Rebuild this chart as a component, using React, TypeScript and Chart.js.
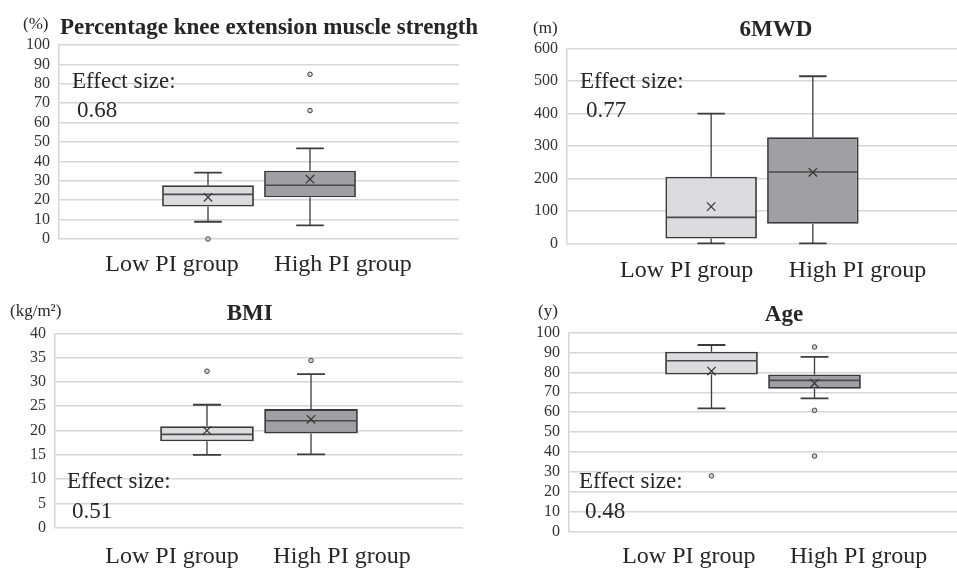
import React, { useEffect, useRef } from 'react';
import { Chart, registerables } from 'chart.js';

Chart.register(...registerables);

// ---------- data ----------
const groups = ['Low PI group', 'High PI group'];

// Panel 1: Percentage knee extension muscle strength
const kneeTitle = 'Percentage knee extension muscle strength';
const kneeUnit = '(%)';
const kneeAxis = [0, 100, 10];
const kneeMin = [8.9, 7.0];
const kneeQ1 = [16.7, 21.5];
const kneeMedian = [23.0, 27.7];
const kneeQ3 = [27.7, 35.2];
const kneeMax = [34.2, 46.7];
const kneeMean = [21.5, 30.8];
const kneeOutliers = [[0], [66.2, 84.9]];
const kneeEffect = '0.68';

// Panel 2: 6MWD
const mwdTitle = '6MWD';
const mwdUnit = '(m)';
const mwdAxis = [0, 600, 100];
const mwdMin = [0, 0];
const mwdQ1 = [15, 60];
const mwdMedian = [80, 220];
const mwdQ3 = [205, 327];
const mwdMax = [400, 515];
const mwdMean = [113, 219];
const mwdOutliers = [[], []];
const mwdEffect = '0.77';

// Panel 3: BMI
const bmiTitle = 'BMI';
const bmiUnit = '(kg/m²)';
const bmiAxis = [0, 40, 5];
const bmiMin = [15.0, 15.1];
const bmiQ1 = [17.8, 19.4];
const bmiMedian = [19.2, 22.0];
const bmiQ3 = [20.9, 24.4];
const bmiMax = [25.3, 31.6];
const bmiMean = [20.0, 22.3];
const bmiOutliers = [[32.2], [34.4]];
const bmiEffect = '0.51';

// Panel 4: Age
const ageTitle = 'Age';
const ageUnit = '(y)';
const ageAxis = [0, 100, 10];
const ageMin = [61.9, 66.9];
const ageQ1 = [78.9, 71.8];
const ageMedian = [85.9, 76.0];
const ageQ3 = [90.4, 78.9];
const ageMax = [93.8, 87.8];
const ageMean = [80.7, 74.5];
const ageOutliers = [[27.9], [92.8, 60.9, 37.9]];
const ageEffect = '0.48';

// ---------- styles / layout ----------
const FONT = "'Liberation Serif', 'Times New Roman', serif";
const TEXT = '#262626';
const FILLS = ['#dcdcde', '#a0a0a4'];
const EDGE = '#3a3a3a';
const GRID = '#d6d6d6';
const YAXIS_W = 50;

const layouts = [
  { area: [59, 459, 45, 239], cat: 0.51, bar: 0.9, title: [269, 34], unit: [23, 29], eff: [72, 88, 77, 117], labels: [172, 343, 271] },
  { area: [567, 957, 48.7, 243.3], cat: 0.5215, bar: 0.9, title: [776, 36], unit: [533, 33], eff: [580, 88, 586, 117], labels: [686.7, 857.5, 277] },
  { area: [55, 463, 333.3, 527.7], cat: 0.51, bar: 0.9, title: [249.7, 320], unit: [10, 316], eff: [67, 488, 72, 517.7], labels: [172, 342, 563] },
  { area: [569, 957, 332.7, 531.3], cat: 0.531, bar: 0.9, title: [784, 320.7], unit: [538, 316], eff: [579, 488, 585, 517.7], labels: [688.8, 858.7, 563] },
];

const panels = [
  { title: kneeTitle, unit: kneeUnit, axis: kneeAxis, min: kneeMin, q1: kneeQ1, med: kneeMedian, q3: kneeQ3, max: kneeMax, mean: kneeMean, out: kneeOutliers, effect: kneeEffect },
  { title: mwdTitle, unit: mwdUnit, axis: mwdAxis, min: mwdMin, q1: mwdQ1, med: mwdMedian, q3: mwdQ3, max: mwdMax, mean: mwdMean, out: mwdOutliers, effect: mwdEffect },
  { title: bmiTitle, unit: bmiUnit, axis: bmiAxis, min: bmiMin, q1: bmiQ1, med: bmiMedian, q3: bmiQ3, max: bmiMax, mean: bmiMean, out: bmiOutliers, effect: bmiEffect },
  { title: ageTitle, unit: ageUnit, axis: ageAxis, min: ageMin, q1: ageQ1, med: ageMedian, q3: ageQ3, max: ageMax, mean: ageMean, out: ageOutliers, effect: ageEffect },
];

function makePlugin(p: any, lay: any) {
  return {
    id: 'boxExtras',
    afterDatasetsDraw(chart: any) {
      const ctx = chart.ctx;
      const y = chart.scales.y;
      ctx.save();
      chart.data.datasets.forEach((_ds: any, i: number) => {
        const el = chart.getDatasetMeta(i).data[0];
        const x = el.x;
        const w = el.width;
        const cap = w * 0.3;
        const py = (v: number) => y.getPixelForValue(v);
        // whiskers
        ctx.strokeStyle = '#3c3c3c';
        ctx.lineWidth = 1.3;
        ctx.beginPath();
        ctx.moveTo(x, py(p.q3[i]));
        ctx.lineTo(x, py(p.max[i]));
        ctx.moveTo(x, py(p.q1[i]));
        ctx.lineTo(x, py(p.min[i]));
        ctx.stroke();
        ctx.lineWidth = 1.8;
        ctx.beginPath();
        ctx.moveTo(x - cap / 2, py(p.max[i]));
        ctx.lineTo(x + cap / 2, py(p.max[i]));
        ctx.moveTo(x - cap / 2, py(p.min[i]));
        ctx.lineTo(x + cap / 2, py(p.min[i]));
        ctx.stroke();
        // median
        ctx.strokeStyle = '#4a4a4a';
        ctx.lineWidth = 1.6;
        ctx.beginPath();
        ctx.moveTo(x - w / 2 + 1, py(p.med[i]));
        ctx.lineTo(x + w / 2 - 1, py(p.med[i]));
        ctx.stroke();
        // mean X
        const m = py(p.mean[i]);
        const s = 4.2;
        ctx.strokeStyle = '#333';
        ctx.lineWidth = 1.2;
        ctx.beginPath();
        ctx.moveTo(x - s, m - s);
        ctx.lineTo(x + s, m + s);
        ctx.moveTo(x + s, m - s);
        ctx.lineTo(x - s, m + s);
        ctx.stroke();
        // outliers
        p.out[i].forEach((v: number) => {
          ctx.beginPath();
          ctx.arc(x, py(v), 2.3, 0, Math.PI * 2);
          ctx.fillStyle = '#cfcfcf';
          ctx.fill();
          ctx.strokeStyle = '#444';
          ctx.lineWidth = 1;
          ctx.stroke();
        });
      });
      ctx.restore();
    },
    afterDraw(chart: any) {
      const ctx = chart.ctx;
      ctx.save();
      ctx.fillStyle = TEXT;
      ctx.textBaseline = 'alphabetic';
      // title
      ctx.font = `bold 23px ${FONT}`;
      ctx.textAlign = 'center';
      ctx.fillText(p.title, lay.title[0], lay.title[1]);
      // unit
      ctx.font = `17px ${FONT}`;
      ctx.textAlign = 'left';
      ctx.fillText(p.unit, lay.unit[0], lay.unit[1]);
      // effect size
      ctx.font = `23px ${FONT}`;
      ctx.fillText('Effect size:', lay.eff[0], lay.eff[1]);
      ctx.fillText(p.effect, lay.eff[2], lay.eff[3]);
      // group labels
      ctx.font = `24px ${FONT}`;
      ctx.textAlign = 'center';
      ctx.fillText(groups[0], lay.labels[0], lay.labels[2]);
      ctx.fillText(groups[1], lay.labels[1], lay.labels[2]);
      ctx.restore();
    },
  };
}

function Panel({ idx }: { idx: number }) {
  const ref = useRef<HTMLCanvasElement>(null);
  useEffect(() => {
    const p = panels[idx];
    const lay = layouts[idx];
    const [L, R, T, B] = lay.area;
    const chart = new Chart(ref.current as HTMLCanvasElement, {
      type: 'bar',
      data: {
        labels: [''],
        datasets: groups.map((g, i) => ({
          label: g,
          data: [[p.q1[i], p.q3[i]]] as any,
          backgroundColor: FILLS[i],
          borderColor: EDGE,
          borderWidth: 1.8,
          borderSkipped: false,
          categoryPercentage: lay.cat,
          barPercentage: lay.bar,
        })),
      },
      options: {
        responsive: false,
        animation: false,
        events: [],
        layout: { padding: { left: L - YAXIS_W, right: 957 - R, top: T, bottom: 568 - B } },
        plugins: { legend: { display: false }, tooltip: { enabled: false } },
        scales: {
          x: { display: false },
          y: {
            min: p.axis[0],
            max: p.axis[1],
            ticks: {
              stepSize: p.axis[2],
              autoSkip: false,
              padding: 9,
              color: '#333',
              font: { family: FONT, size: 16 },
            },
            grid: { color: GRID, lineWidth: 1.5, drawTicks: false },
            border: { color: GRID, width: 1.5 },
            afterFit: (s: any) => { s.width = YAXIS_W; },
          },
        },
      },
      plugins: [makePlugin(p, lay)],
    } as any);
    return () => chart.destroy();
  }, [idx]);
  return (
    <canvas
      ref={ref}
      width={957}
      height={568}
      style={{ position: 'absolute', left: 0, top: 0, width: 957, height: 568 }}
    />
  );
}

export default function App() {
  useEffect(() => {
    document.body.style.margin = '0';
    document.body.style.background = '#fff';
  }, []);
  return (
    <div style={{ position: 'relative', width: 957, height: 568, background: '#fff', overflow: 'hidden' }}>
      {[0, 1, 2, 3].map((i) => (
        <Panel key={i} idx={i} />
      ))}
    </div>
  );
}
